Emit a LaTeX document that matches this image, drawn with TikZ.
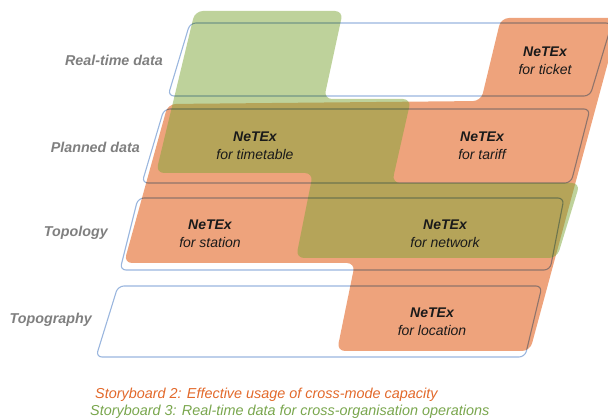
\documentclass[tikz,border=0pt]{standalone}
\usepackage{fontspec}
\setsansfont{Liberation Sans}
\usepackage{xcolor}
\definecolor{layerblue}{HTML}{9AB6DE}
\definecolor{labelgray}{HTML}{7F7F7F}
\definecolor{dark}{HTML}{1A1A1A}
\definecolor{sborange}{HTML}{EEA37C}
\definecolor{sbgreen}{HTML}{7DA537}
\definecolor{sborangetext}{HTML}{E2692B}
\definecolor{sbgreentext}{HTML}{79A64D}
\tikzset{
    % Layer outline style
    layer/.style={
        draw=layerblue,
        line width=1.1pt,
        rounded corners=6pt
    },
    % Storyboard area style
    storyarea/.style={
        fill=#1,
        rounded corners=8pt
    },
    % Layer name style
    layer label/.style={
        font=\fontsize{14.3}{17}\selectfont\sffamily\bfseries\itshape,
        text=labelgray,
        anchor=east,
        inner sep=0pt
    },
    % NeTEx part style
    netex part/.style={
        font=\fontsize{14}{18}\selectfont\sffamily\itshape,
        text=dark,
        align=center,
        inner sep=0pt
    },
    % Storyboard caption style
    story text/.style={
        font=\fontsize{14.4}{17}\selectfont\sffamily\itshape,
        text=#1,
        anchor=west,
        inner sep=0pt
    }
}
\begin{document}
\begin{tikzpicture}[x=1pt, y=-1pt]
        \useasboundingbox (0,0) rectangle (608,419);
        \clip (0,0) rectangle (608,419);

        % Storyboard 2 area
        \fill[storyarea=sborange] (501,18) -- (620,18) -- (530,351) -- (337,351) -- (355,263)
            -- (124,263) -- (168,104) -- (481,101) -- cycle;

        % Storyboard 3 area
        \fill[storyarea=sbgreen, fill opacity=0.5] (195,11) -- (343,11) -- (324,99) -- (411,99)
            -- (392,183) -- (580,183) -- (557,258) -- (296,258) -- (313,173) -- (156,173) -- cycle;

        % Layers
        \begin{scope}[blend mode=multiply]
            \draw[layer] (190,23) -- (612,23) -- (590,96) -- (168,96) -- cycle;
            \draw[layer] (164,109) -- (590,109) -- (571,183) -- (142,183) -- cycle;
            \draw[layer] (138,198) -- (564,198) -- (550,270) -- (120,270) -- cycle;
            \draw[layer] (118,286) -- (542,286) -- (525,357) -- (96,357) -- cycle;
        \end{scope}

        % Layer names
        \node[layer label] (realtime) at (163,60) {Real-time data};
        \node[layer label] (planned) at (140,147) {Planned data};
        \node[layer label] (topology) at (108,233) {Topology};
        \node[layer label] (topography) at (92,320) {Topography};

        % NeTEx parts
        \node[netex part] (ticket) at (545,61) {\textbf{NeTEx}\\for ticket};
        \node[netex part] (tariff) at (482,146) {\textbf{NeTEx}\\for tariff};
        \node[netex part] (timetable) at (255,146) {\textbf{NeTEx}\\for timetable};
        \node[netex part] (station) at (210,234) {\textbf{NeTEx}\\for station};
        \node[netex part] (network) at (445,234) {\textbf{NeTEx}\\for network};
        \node[netex part] (location) at (432,322) {\textbf{NeTEx}\\for location};

        % Storyboards
        \node[story text=sborangetext] (sb2) at (95,395) {Storyboard 2: Effective usage of cross-mode capacity};
        \node[story text=sbgreentext] (sb3) at (90,412) {Storyboard 3: Real-time data for cross-organisation operations};

    \end{tikzpicture}
\end{document}
